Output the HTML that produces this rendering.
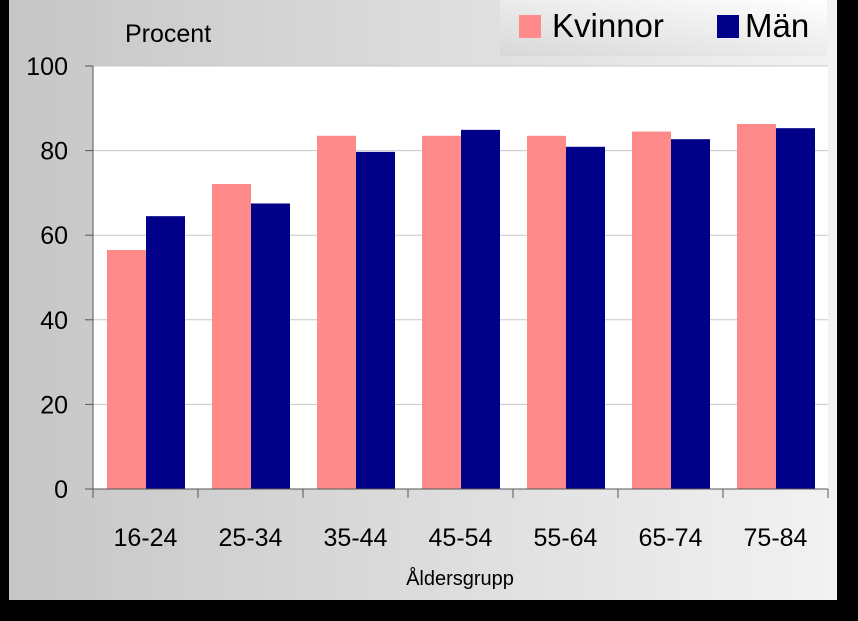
<!DOCTYPE html>
<html><head><meta charset="utf-8"><style>
body{margin:0;background:#000;width:858px;height:616px;overflow:hidden;font-family:"Liberation Sans",sans-serif}
</style></head><body>
<svg width="858" height="616">
<defs>
<linearGradient id="bg" x1="0" x2="1" y1="0" y2="0"><stop offset="0" stop-color="#c6c6c6"/><stop offset="1" stop-color="#f2f2f2"/></linearGradient>
<linearGradient id="lg" x1="0" x2="1" y1="1" y2="0"><stop offset="0" stop-color="#d8d8d8"/><stop offset="1" stop-color="#ffffff"/></linearGradient>
</defs>
<rect x="0" y="0" width="858" height="616" fill="#000"/>
<rect x="9" y="0" width="828" height="600" fill="url(#bg)"/>
<rect x="500" y="0" width="327" height="56" fill="url(#lg)"/>
<rect x="519" y="15" width="22" height="23" fill="#ff8a8a"/>
<text x="552" y="37" font-size="33">Kvinnor</text>
<rect x="717" y="15" width="22" height="23" fill="#000088"/>
<text x="745" y="37" font-size="33">Män</text>
<text x="125" y="42" font-size="25">Procent</text>
<rect x="93" y="66" width="735" height="423" fill="#fff"/>
<g id="g"></g>
<text x="460" y="585" font-size="20" text-anchor="middle">Åldersgrupp</text>
</svg>
<script>
const categories=["16-24","25-34","35-44","45-54","55-64","65-74","75-84"];
const kvinnor=[56.5,72.1,83.5,83.5,83.5,84.5,86.3];
const man=[64.5,67.5,79.7,84.9,80.9,82.7,85.3];
const yTicks=[0,20,40,60,80,100];
const NS="http://www.w3.org/2000/svg",g=document.getElementById('g');
const X0=93,X1=828,Y0=489,Y1=66;
const y=v=>Y0-(v/100)*(Y0-Y1);
const cw=(X1-X0)/categories.length;
function mk(t,a,txt){const e=document.createElementNS(NS,t);for(const k in a)e.setAttribute(k,a[k]);if(txt!=null)e.textContent=txt;g.appendChild(e);return e;}
yTicks.forEach(v=>{
 if(v>0){const l=mk('line',{x1:X0,x2:X1,y1:y(v),y2:y(v),stroke:'#c8c8c8'});
 
 }
 const t=mk('line',{x1:X0-8,x2:X0,y1:y(v),y2:y(v),stroke:'#555'});
 
 
 const tx=mk('text',{x:68,y:y(v)+9,'font-size':25,'text-anchor':'end'},v);
 
 
});
categories.forEach((c,i)=>{
 const cx=X0+cw*i;
 const b1=mk('rect',{x:cx+14,y:y(kvinnor[i]),width:39,height:Y0-y(kvinnor[i]),fill:'#ff8a8a'});
 
 
 const b2=mk('rect',{x:cx+53,y:y(man[i]),width:39,height:Y0-y(man[i]),fill:'#000088'});
 
 
 const tx=mk('text',{x:cx+cw/2,y:546,'font-size':25,'text-anchor':'middle'},c);
 
 
});
for(let i=0;i<=categories.length;i++){const t=mk('line',{x1:X0+cw*i,x2:X0+cw*i,y1:Y0,y2:Y0+9,stroke:'#555'});
 
 }
const ax=mk('line',{x1:X0,x2:X0,y1:Y1,y2:Y0,stroke:'#555'});


const bx=mk('line',{x1:X0,x2:X1,y1:Y0,y2:Y0,stroke:'#555'});


</script>
</body></html>
